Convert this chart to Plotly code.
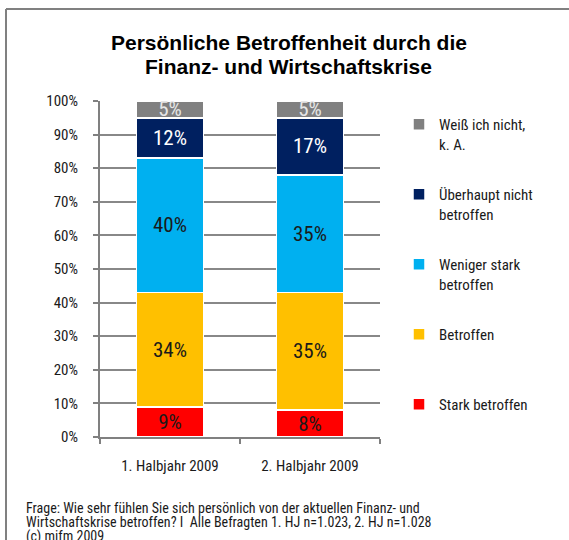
import plotly.graph_objects as go

categories = ["1. Halbjahr 2009", "2. Halbjahr 2009"]
series_names = ["Stark betroffen", "Betroffen", "Weniger stark<br>betroffen",
                "Überhaupt nicht<br>betroffen", "Weiß ich nicht,<br>k. A."]
stark = [9, 8]
betroffen = [34, 35]
weniger = [40, 35]
ueberhaupt = [12, 17]
weiss = [5, 5]
y_ticks = [0, 10, 20, 30, 40, 50, 60, 70, 80, 90, 100]
y_tick_labels = [f"{v}%" for v in y_ticks]
title_lines = ["Persönliche Betroffenheit durch die", "Finanz- und Wirtschaftskrise"]
footer_lines = [
    "Frage: Wie sehr fühlen Sie sich persönlich von der aktuellen Finanz- und",
    "Wirtschaftskrise betroffen? I  Alle Befragten 1. HJ n=1.023, 2. HJ n=1.028",
    "(c) mifm 2009",
]

colors = ["#FF0000", "#FFC000", "#00B0F0", "#002060", "#808080"]
text_colors = ["#1a1a1a", "#1a1a1a", "#1a1a1a", "#FFFFFF", "#E6E6E6"]
series_values = [stark, betroffen, weniger, ueberhaupt, weiss]

FONT = "Liberation Sans Narrow, Roboto Condensed, Roboto, sans-serif"

fig = go.Figure()
for i, (name, vals) in enumerate(zip(series_names, series_values)):
    legend_name = name if "<br>" in name else name + "<br> "
    fig.add_trace(go.Bar(
        x=categories, y=vals, name=legend_name,
        marker=dict(color=colors[i], line=dict(color="white", width=1.5)),
        text=[f"{v}%" for v in vals], textposition="inside", textangle=0,
        insidetextanchor="middle", constraintext="none",
        textfont=dict(family=FONT, size=21, color=text_colors[i]),
        legendgroup=f"g{i}", legendrank=10 - i, width=0.48, hoverinfo="skip",
    ))

W, H = 569, 540
L, R, T, B = 100, 189, 101, 103
pw, ph = W - L - R, H - T - B

def px(x):
    return (x - L) / pw

def py(y):
    return (H - B - y) / ph

shapes = [
    dict(type="line", xref="paper", yref="paper", x0=px(6), x1=px(569), y0=py(9), y1=py(9),
         line=dict(color="#808080", width=2)),
    dict(type="line", xref="paper", yref="paper", x0=px(6), x1=px(6), y0=py(9), y1=py(541),
         line=dict(color="#808080", width=2)),
]

annotations = []
for line, yc in zip(title_lines, [43, 67]):
    annotations.append(dict(
        text=f"<b>{line}</b>", xref="paper", yref="paper", x=px(288.5), y=py(yc),
        xanchor="center", yanchor="middle", showarrow=False,
        font=dict(family="Liberation Sans, Arial, sans-serif", size=21, color="black")))
for line, yc in zip(footer_lines, [508, 522, 536]):
    annotations.append(dict(
        text=line, xref="paper", yref="paper", x=px(24), y=py(yc), xanchor="left", yanchor="middle",
        align="left", showarrow=False, font=dict(family=FONT, size=14, color="#1a1a1a")))

fig.update_layout(
    width=W, height=H,
    margin=dict(l=L, r=R, t=T, b=B),
    paper_bgcolor="white", plot_bgcolor="white",
    barmode="stack", bargap=0.52,
    font=dict(family=FONT, size=15, color="#1a1a1a"),
    xaxis=dict(showline=True, linecolor="#808080", linewidth=2, ticks="outside",
               tickson="boundaries", ticklen=5, tickcolor="#808080", tickwidth=2,
               tickfont=dict(family=FONT, size=15, color="#1a1a1a"), ticklabelstandoff=14,
               showgrid=False, fixedrange=True),
    yaxis=dict(range=[0, 100], tickvals=y_ticks, ticktext=y_tick_labels,
               showline=True, linecolor="#808080", linewidth=2, ticks="outside", ticklen=5,
               tickcolor="#808080", tickwidth=2, showgrid=True, gridcolor="#888888", gridwidth=2,
               tickfont=dict(family=FONT, size=15, color="#1a1a1a"), ticklabelstandoff=12,
               zeroline=False, fixedrange=True),
    legend=dict(x=px(399), xanchor="left", y=py(108), yanchor="top",
                traceorder="grouped", tracegroupgap=28, valign="top", maxheight=600,
                font=dict(family=FONT, size=15, color="#1a1a1a"), bgcolor="rgba(0,0,0,0)"),
    shapes=shapes,
    annotations=annotations,
)

fig.write_html("out.html", config={"displayModeBar": False},
               post_script="document.body.style.margin='0';document.body.style.overflow='hidden';")
